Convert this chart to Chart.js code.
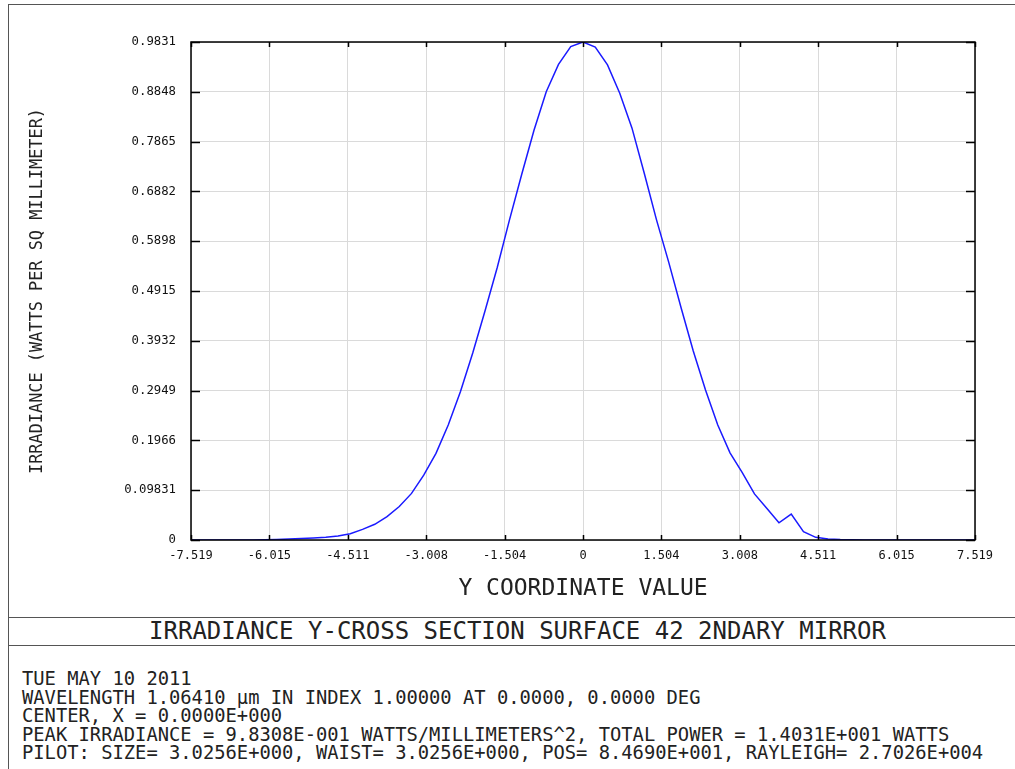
<!DOCTYPE html>
<html>
<head>
<meta charset="utf-8">
<script src="https://cdn.jsdelivr.net/npm/chart.js@4.4.1/dist/chart.umd.min.js"></script>
<style>
  html, body { margin:0; padding:0; background:#fff; }
  body { width:1015px; height:769px; position:relative; overflow:hidden; font-family:"DejaVu Sans Mono", monospace; color:#222; }
  #wrap { position:absolute; left:0; top:0; width:1015px; height:610px; }
  .hl { position:absolute; left:8px; width:1007px; height:0; border-top:1px solid #555; }
  .vl { position:absolute; left:8px; top:4px; width:0; height:765px; border-left:1px solid #555; }
  #title { position:absolute; top:617px; left:517.5px; transform:translateX(-50%); white-space:nowrap; font-size:24px; line-height:28px; }
  #footer { position:absolute; left:22px; top:670px; font-size:18.8px; line-height:18.5px; white-space:pre; }
</style>
</head>
<body>
<div class="hl" style="top:4px"></div>
<div class="vl"></div>
<div class="hl" style="top:617px"></div>
<div class="hl" style="top:645px"></div>
<div id="wrap"><canvas id="c" width="1015" height="610"></canvas></div>
<div id="title"></div>
<div id="footer"></div>
<script>
// ---- data ----
const xValues = [-7.519,-7.284,-7.049,-6.814,-6.579,-6.344,-6.109,-5.874,-5.639,-5.404,-5.169,-4.934,-4.699,-4.464,-4.229,-3.994,-3.759,-3.524,-3.289,-3.055,-2.820,-2.585,-2.350,-2.115,-1.880,-1.645,-1.410,-1.175,-0.940,-0.705,-0.470,-0.235,0,
  0.235,0.470,0.705,0.940,1.175,1.410,1.645,1.880,2.115,2.350,2.585,2.820,3.055,3.289,3.524,3.759,3.994,4.229,4.464,4.699,4.934,5.169,5.404,5.639,5.874,6.109,6.344,6.579,6.814,7.049,7.284,7.519];
const irradiance = [0,0,0,0,0.0001,0.0002,0.0005,0.001,0.0018,0.0028,0.004,0.0055,0.008,0.0125,0.021,0.031,0.046,0.066,0.092,0.128,0.171,0.227,0.293,0.369,0.452,0.538,0.632,0.722,0.809,0.885,0.939,0.974,0.9831,
  0.973,0.938,0.882,0.813,0.724,0.632,0.548,0.459,0.373,0.296,0.227,0.172,0.133,0.091,0.0625,0.034,0.051,0.0164,0.0053,0.002,0.0008,0.0003,0.0001,0,0,0,0,0,0,0,0,0];
const xTicks = [-7.519,-6.015,-4.511,-3.008,-1.504,0,1.504,3.008,4.511,6.015,7.519];
const xTickLabels = ['-7.519','-6.015','-4.511','-3.008','-1.504','0','1.504','3.008','4.511','6.015','7.519'];
const yTicks = [0,0.09831,0.1966,0.2949,0.3932,0.4915,0.5898,0.6882,0.7865,0.8848,0.9831];
const yTickLabels = ['0','0.09831','0.1966','0.2949','0.3932','0.4915','0.5898','0.6882','0.7865','0.8848','0.9831'];
const xTitle = 'Y COORDINATE VALUE';
const yTitle = 'IRRADIANCE (WATTS PER SQ MILLIMETER)';
const chartTitle = 'IRRADIANCE Y-CROSS SECTION SURFACE 42 2NDARY MIRROR';
const footerLines = [
  'TUE MAY 10 2011',
  'WAVELENGTH 1.06410 \u00b5m IN INDEX 1.00000 AT 0.0000, 0.0000 DEG',
  'CENTER, X = 0.0000E+000',
  'PEAK IRRADIANCE = 9.8308E-001 WATTS/MILLIMETERS^2, TOTAL POWER = 1.4031E+001 WATTS',
  'PILOT: SIZE= 3.0256E+000, WAIST= 3.0256E+000, POS= 8.4690E+001, RAYLEIGH= 2.7026E+004'
];

document.getElementById('title').textContent = chartTitle;
document.getElementById('footer').textContent = footerLines.join('\n');

const FONT = '"DejaVu Sans Mono", monospace';

const framePlugin = {
  id: 'frame',
  afterDraw(chart) {
    const {ctx, chartArea: a, scales: {x, y}} = chart;
    ctx.save();
    ctx.strokeStyle = '#000';
    ctx.lineWidth = 1.5;
    ctx.strokeRect(a.left, a.top, a.right - a.left, a.bottom - a.top);
    ctx.beginPath();
    xTicks.forEach(v => {
      const px = Math.round(x.getPixelForValue(v)) + 0.5;
      ctx.moveTo(px, a.top); ctx.lineTo(px, a.top + 5);
      ctx.moveTo(px, a.bottom); ctx.lineTo(px, a.bottom - 5);
    });
    yTicks.forEach(v => {
      const py = Math.round(y.getPixelForValue(v)) + 0.5;
      ctx.moveTo(a.left, py); ctx.lineTo(a.left + 9, py);
      ctx.moveTo(a.right, py); ctx.lineTo(a.right - 9, py);
    });
    ctx.stroke();
    ctx.restore();
  }
};

new Chart(document.getElementById('c'), {
  type: 'line',
  data: {
    datasets: [{
      data: xValues.map((v, i) => ({x: v, y: irradiance[i]})),
      borderColor: '#1a1aff',
      borderWidth: 1.5,
      pointRadius: 0,
      tension: 0,
      fill: false
    }]
  },
  options: {
    responsive: false,
    animation: false,
    devicePixelRatio: 1,
    layout: { padding: { top: 42, right: 40, bottom: 0, left: 0 } },
    plugins: { legend: { display: false }, tooltip: { enabled: false } },
    scales: {
      x: {
        type: 'linear', min: -7.519, max: 7.519,
        afterBuildTicks: s => { s.ticks = xTicks.map(v => ({value: v})); },
        afterFit: s => { s.height = 70; },
        ticks: { callback: (v, i) => xTickLabels[i], font: {family: FONT, size: 12}, color: '#111', padding: 9, maxRotation: 0, autoSkip: false },
        grid: { color: '#dadada', lineWidth: 1, drawTicks: false },
        border: { display: false },
        title: { display: true, text: xTitle, font: {family: FONT, size: 23}, color: '#222', padding: {top: 0, bottom: 7} }
      },
      y: {
        type: 'linear', min: 0, max: 0.9831,
        afterBuildTicks: s => { s.ticks = yTicks.map(v => ({value: v})); },
        afterFit: s => { s.width = 191; },
        ticks: { callback: (v, i) => yTickLabels[i], font: {family: FONT, size: 12.3}, color: '#111', padding: 15, autoSkip: false },
        grid: { color: '#dadada', lineWidth: 1, drawTicks: false },
        border: { display: false },
        title: { display: true, text: yTitle, font: {family: FONT, size: 16.9}, color: '#222', padding: {top: 27.5, bottom: 0} }
      }
    }
  },
  plugins: [framePlugin]
});
</script>
</body>
</html>
